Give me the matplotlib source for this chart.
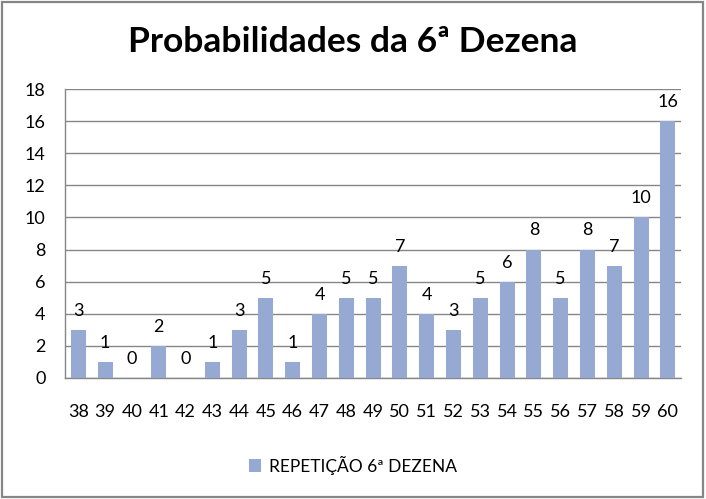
import matplotlib.pyplot as plt
from matplotlib.patches import Rectangle

dezenas = [38, 39, 40, 41, 42, 43, 44, 45, 46, 47, 48, 49, 50, 51, 52, 53, 54, 55, 56, 57, 58, 59, 60]
repeticoes = [3, 1, 0, 2, 0, 1, 3, 5, 1, 4, 5, 5, 7, 4, 3, 5, 6, 8, 5, 8, 7, 10, 16]
titulo = "Probabilidades da 6ª Dezena"
serie = "REPETIÇÃO 6ª DEZENA"

plt.rcParams['font.family'] = ['Lato', 'DejaVu Sans']

fig = plt.figure(figsize=(7.06, 4.99), dpi=100)
ax = fig.add_axes([0.092, 0.2425, 0.873, 0.579])

x = list(range(len(dezenas)))
bars = ax.bar(x, repeticoes, width=0.56, color='#95A9D2', label=serie, zorder=3)
for xi, v in zip(x, repeticoes):
    ax.annotate(str(v), (xi, v), xytext=(0, 8), textcoords='offset points',
                ha='center', va='bottom', fontsize=13, color='black')

ax.set_xlim(-0.5, len(dezenas) - 0.5)
ax.set_ylim(0, 18)
ax.set_yticks(range(0, 19, 2))
ax.set_xticks(x)
ax.set_xticklabels([str(d) for d in dezenas])
ax.tick_params(axis='both', length=0, labelsize=13, colors='black')
ax.tick_params(axis='y', pad=14)
ax.tick_params(axis='x', pad=19)
ax.yaxis.grid(True, color='#868686', linewidth=1, zorder=0)
for s in ['top', 'right']:
    ax.spines[s].set_visible(False)
for s in ['left', 'bottom']:
    ax.spines[s].set_color('#868686')
    ax.spines[s].set_linewidth(1)

fig.text(0.5, 0.915, titulo, ha='center', va='center', fontsize=25.5, fontweight='bold')

fig.legend(handles=[bars], labels=[serie], loc='center', bbox_to_anchor=(0.5, 0.068),
           frameon=False, fontsize=12.5, handlelength=0.7, handleheight=0.7, handletextpad=0.5)

fig.patches.append(Rectangle((0.003, 0.005), 0.993, 0.99, transform=fig.transFigure,
                             fill=False, edgecolor='#868686', linewidth=1.6))

fig.savefig('out.png', dpi=100)
